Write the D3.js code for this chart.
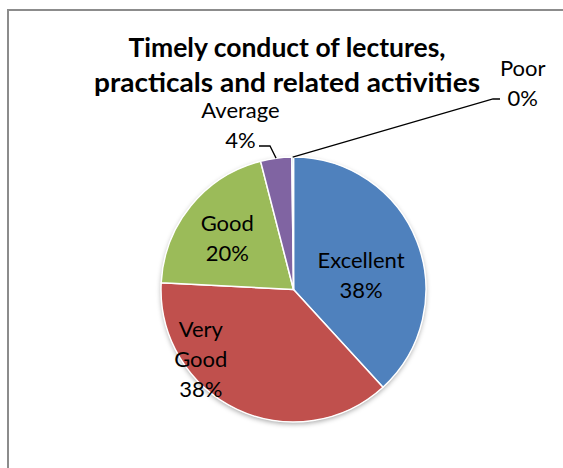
<!DOCTYPE html>
<html>
<head>
<meta charset="utf-8">
<script src="https://cdn.jsdelivr.net/npm/d3@7/dist/d3.min.js"></script>
<style>
  html, body { margin: 0; padding: 0; background: #fff; }
  svg { display: block; font-family: Lato, "Open Sans", sans-serif; }
</style>
</head>
<body>
<div id="chart"></div>
<script>
// donnees
const categories = ["Excellent", "Very Good", "Good", "Average", "Poor"]
const shares = [38.2, 37.6, 20.2, 3.8, 0.2]
const pctLabels = ["38%", "38%", "20%", "4%", "0%"]
const titleLines = ["Timely conduct of lectures,", "practicals and related activities"]

const colors = ["#4f81bd", "#c0504d", "#9bbb59", "#8064a2", "#4bacc6"]

// Dimensions
const width = 563, height = 468
const cx = 293.5, cy = 289.5, r = 132.5

// texte de chaque étiquette (lignes) et position en unités de rayon
const labelLines = [
    ["Excellent"],
    ["Very", "Good"],
    ["Good"],
    ["Average"],
    ["Poor"]
]
const labelSpots = [
    [0.51, -0.10],
    [-0.70, 0.53],
    [-0.50, -0.38],
    [-0.40, -1.235],
    [1.73, -1.55]
]

const svg = d3.select("#chart")
    .append("svg")
    .attr("width", width)
    .attr("height", height)

// ombre portée
const defs = svg.append("defs")
const f = defs.append("filter").attr("id", "shadow")
    .attr("x", "-20%").attr("y", "-20%").attr("width", "140%").attr("height", "140%")
f.append("feDropShadow")
    .attr("dx", 0).attr("dy", 2).attr("stdDeviation", 2.5)
    .attr("flood-color", "#000").attr("flood-opacity", 0.35)

// cadre
svg.append("rect")
    .attr("x", 8).attr("y", 10)
    .attr("width", 600).attr("height", 500)
    .attr("fill", "#fff")
    .attr("stroke", "#8c8c8c")
    .attr("stroke-width", 2)

// titre
svg.append("g").selectAll("text")
    .data(titleLines)
    .join("text")
    .attr("x", 287)
    .attr("y", (d, i) => 57 + i * 35)
    .attr("text-anchor", "middle")
    .attr("font-size", 26)
    .attr("font-weight", "bold")
    .attr("fill", "#000")
    .attr("textLength", (d, i) => i == 0 ? 317 : 386)
    .attr("lengthAdjust", "spacingAndGlyphs")
    .text(d => d)

const data = categories.map((c, i) => ({ cat: c, value: shares[i], pct: pctLabels[i], i: i }))

const pie = d3.pie()
    .sort(null)
    .value(d => d.value)

const arc = d3.arc()
    .innerRadius(0)
    .outerRadius(r)

const arcs = pie(data)

const g = svg.append("g")
    .attr("transform", "translate(" + cx + "," + cy + ")")

g.append("circle")
    .attr("r", r)
    .attr("fill", "#fff")
    .attr("filter", "url(#shadow)")

g.selectAll("path")
    .data(arcs)
    .join("path")
    .attr("d", arc)
    .attr("fill", d => colors[d.data.i])
    .attr("stroke", "#fff")
    .attr("stroke-width", 1.5)
    .attr("stroke-linejoin", "round")

// lignes de rappel pour Average et Poor
const edge = d => {
    const a = (d.startAngle + d.endAngle) / 2
    return [r * Math.sin(a), -r * Math.cos(a)]
}
const avg = arcs[3], poor = arcs[4]
const leaders = [
    [edge(avg), [-23.5, -143.5], [-34.5, -143.5]],
    [edge(poor), [199.5, -190.5], [206.5, -190.5]]
]
g.selectAll("path.leader")
    .data(leaders)
    .join("path")
    .attr("class", "leader")
    .attr("d", d => d3.line()(d))
    .attr("fill", "none")
    .attr("stroke", "#000")
    .attr("stroke-width", 1.3)

// étiquettes
const lh = 30
const labels = g.selectAll("text.lab")
    .data(arcs)
    .join("text")
    .attr("class", "lab")
    .attr("text-anchor", "middle")
    .attr("font-size", 22)
    .attr("fill", "#000")

labels.each(function (d) {
    const lines = labelLines[d.data.i].concat([d.data.pct])
    const [sx, sy] = labelSpots[d.data.i]
    const x0 = sx * r, yc = sy * r
    const top = yc - (lines.length - 1) * lh / 2 + 7
    d3.select(this).selectAll("tspan")
        .data(lines)
        .join("tspan")
        .attr("x", x0)
        .attr("y", (l, k) => top + k * lh)
        .text(l => l)
})
</script>
</body>
</html>
